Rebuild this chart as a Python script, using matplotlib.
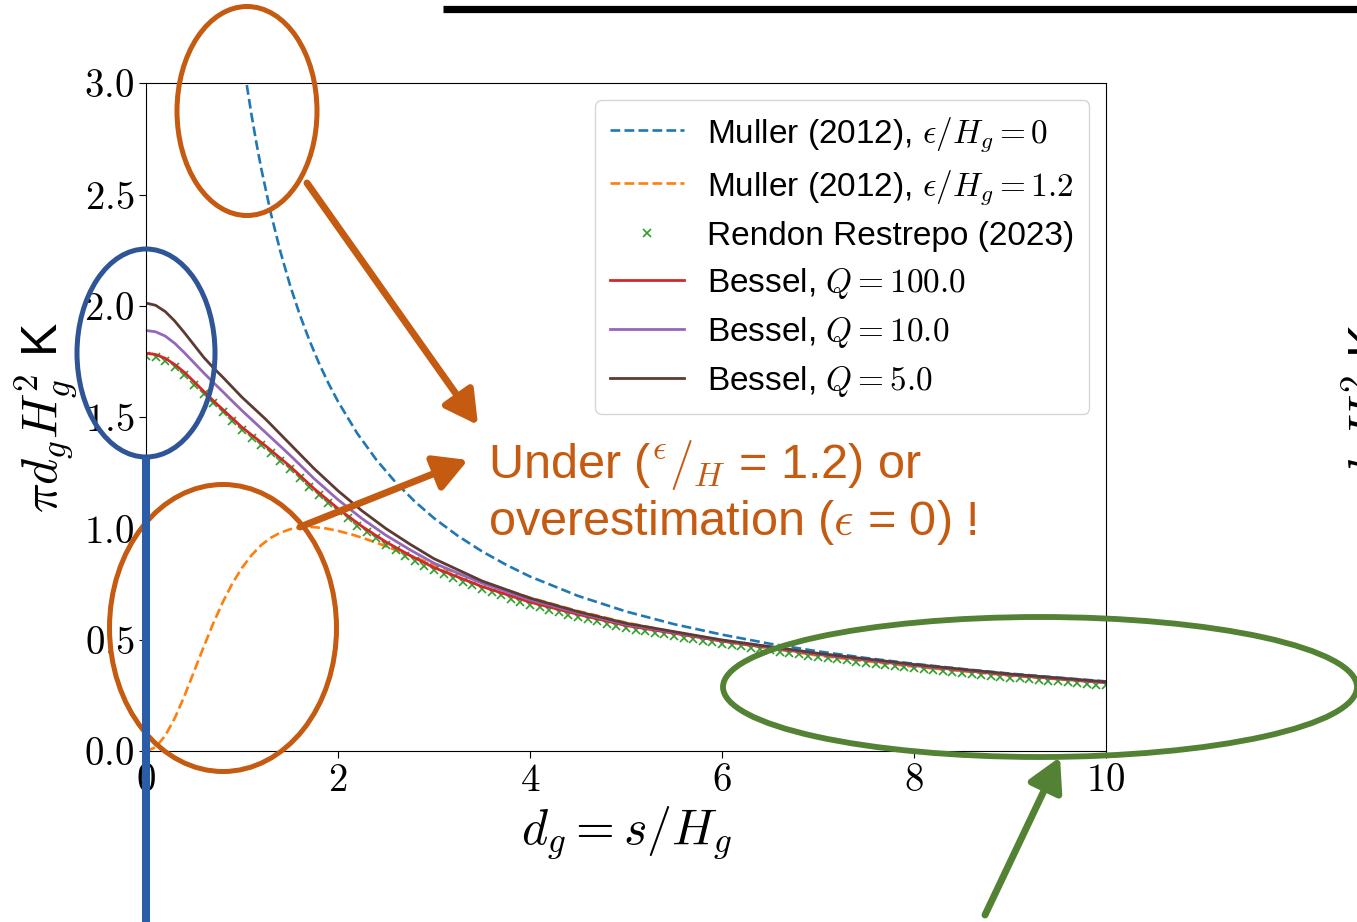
import matplotlib
matplotlib.use("Agg")
import matplotlib.pyplot as plt
from matplotlib.patches import Ellipse, FancyArrowPatch, ArrowStyle
from matplotlib.lines import Line2D

plt.rcParams['font.family'] = ['Liberation Sans', 'DejaVu Sans']
plt.rcParams['mathtext.fontset'] = 'cm'

# ---------------- data ----------------
d_blue = [1.05, 1.1, 1.15, 1.2, 1.3, 1.4, 1.5, 1.6, 1.7, 1.8, 1.9, 2.0, 2.2, 2.4,
          2.6, 2.8, 3.0, 3.25, 3.5, 3.75, 4.0, 4.5, 5.0, 5.5, 6.0, 6.5, 7.0,
          7.5, 8.0, 8.5, 9.0, 9.5, 10.0]
muller_eps0 = [2.992, 2.856, 2.732, 2.618, 2.417, 2.244, 2.094, 1.963, 1.848,
               1.745, 1.653, 1.571, 1.428, 1.309, 1.208, 1.122, 1.047, 0.967,
               0.898, 0.838, 0.785, 0.698, 0.628, 0.571, 0.524, 0.483, 0.449,
               0.419, 0.393, 0.370, 0.349, 0.331, 0.314]

d_orange = [0.0, 0.1, 0.2, 0.3, 0.4, 0.5, 0.6, 0.7, 0.8, 0.9, 1.0, 1.1, 1.2, 1.3,
            1.4, 1.5, 1.6, 1.7, 1.85, 2.0, 2.15, 2.3, 2.45, 2.6, 2.8, 3.0, 3.25,
            3.5, 4.0, 4.5, 5.0, 6.0, 7.0, 8.0, 9.0, 10.0]
muller_eps12 = [0.0, 0.018, 0.070, 0.149, 0.248, 0.358, 0.468, 0.574, 0.670,
                0.754, 0.824, 0.881, 0.926, 0.959, 0.982, 0.997, 1.005, 1.008,
                1.003, 0.990, 0.973, 0.952, 0.929, 0.904, 0.871, 0.838, 0.798,
                0.760, 0.690, 0.630, 0.578, 0.494, 0.430, 0.380, 0.340, 0.3075]

d_rr = [round(0.1 * i, 1) for i in range(101)]
rendon = [1.775, 1.770, 1.752, 1.724, 1.688, 1.646, 1.603, 1.562, 1.522, 1.483,
          1.443, 1.409, 1.375, 1.340, 1.304, 1.268, 1.229, 1.189, 1.150, 1.114,
          1.078, 1.046, 1.014, 0.984, 0.956, 0.928, 0.903, 0.879, 0.856, 0.834,
          0.813, 0.796, 0.779, 0.762, 0.745, 0.728, 0.714, 0.700, 0.686, 0.672,
          0.658, 0.647, 0.636, 0.625, 0.614, 0.603, 0.593, 0.583, 0.573, 0.563,
          0.553, 0.546, 0.539, 0.532, 0.525, 0.518, 0.511, 0.504, 0.497, 0.490,
          0.483, 0.477, 0.471, 0.465, 0.459, 0.453, 0.447, 0.441, 0.435, 0.429,
          0.423, 0.418, 0.413, 0.408, 0.403, 0.398, 0.393, 0.388, 0.383, 0.378,
          0.373, 0.369, 0.365, 0.360, 0.356, 0.352, 0.348, 0.344, 0.339, 0.335,
          0.331, 0.328, 0.324, 0.321, 0.317, 0.314, 0.310, 0.307, 0.303, 0.300,
          0.296]

d_bessel = [0.0, 0.1, 0.2, 0.3, 0.4, 0.5, 0.6, 0.7, 0.8, 0.9, 1.0, 1.25, 1.5,
            1.75, 2.0, 2.25, 2.5, 2.75, 3.0, 3.5, 4.0, 4.5, 5.0, 6.0, 7.0, 8.0,
            9.0, 10.0]
bessel_q100 = [1.788, 1.782, 1.765, 1.737, 1.702, 1.660, 1.617, 1.575, 1.535,
               1.495, 1.455, 1.37, 1.28, 1.18, 1.09, 1.01, 0.94, 0.88, 0.825,
               0.74, 0.67, 0.615, 0.565, 0.495, 0.435, 0.385, 0.343, 0.308]
bessel_q10 = [1.89, 1.884, 1.865, 1.832, 1.79, 1.745, 1.70, 1.657, 1.615, 1.572,
              1.53, 1.43, 1.33, 1.225, 1.13, 1.045, 0.97, 0.905, 0.845, 0.755,
              0.68, 0.622, 0.57, 0.498, 0.437, 0.387, 0.345, 0.31]
bessel_q5 = [2.013, 2.003, 1.975, 1.932, 1.88, 1.825, 1.77, 1.723, 1.68, 1.635,
             1.59, 1.49, 1.38, 1.27, 1.17, 1.08, 1.0, 0.93, 0.865, 0.765, 0.688,
             0.627, 0.575, 0.50, 0.44, 0.39, 0.347, 0.312]

labels = [r'Muller (2012), $\epsilon/H_g = 0$',
          r'Muller (2012), $\epsilon/H_g = 1.2$',
          'Rendon Restrepo (2023)',
          r'Bessel, $Q = 100.0$',
          r'Bessel, $Q = 10.0$',
          r'Bessel, $Q = 5.0$']
xticks = [0, 2, 4, 6, 8, 10]
yticks = [0.0, 0.5, 1.0, 1.5, 2.0, 2.5, 3.0]

# ---------------- figure ----------------
W, H = 1357, 922
fig = plt.figure(figsize=(W / 100, H / 100), dpi=100)
ax = fig.add_axes([146 / W, 1 - 751.3 / H, 960 / W, 668 / H])


def fx(px):
    return px / W


def fy(py):
    return 1 - py / H


ax.plot(d_blue, muller_eps0, ls='--', color='#1f77b4', lw=1.9, label=labels[0])
ax.plot(d_orange, muller_eps12, ls='--', color='#ff7f0e', lw=1.9, label=labels[1])
ax.plot(d_rr, rendon, ls='none', marker='x', ms=5.5, mew=1.2, color='#2ca02c',
        label=labels[2])
ax.plot(d_bessel, bessel_q100, color='#d62728', lw=2.0, label=labels[3])
ax.plot(d_bessel, bessel_q10, color='#9467bd', lw=2.0, label=labels[4])
ax.plot(d_bessel, bessel_q5, color='#5d3a33', lw=2.0, label=labels[5])

ax.set_xlim(0, 10)
ax.set_ylim(0, 3)
ax.set_xticks(xticks)
ax.set_xticklabels([f'${t}$' for t in xticks])
ax.set_yticks(yticks)
ax.set_yticklabels([f'${t:.1f}$' for t in yticks])
ax.tick_params(labelsize=28, length=5, width=0.8)
for sp in ax.spines.values():
    sp.set_linewidth(0.8)
ax.set_xlabel(r'$d_g = s/H_g$', fontsize=36, labelpad=4)
ax.set_ylabel(r'$\pi d_g H_g^2$ K', fontsize=36, labelpad=4)

ax.legend(fontsize=24, loc='upper right', handlelength=2.2, handletextpad=0.7,
          labelspacing=0.42, borderpad=0.45, borderaxespad=0.5)

# ---------------- slide annotations ----------------
orange = '#C55A11'
blue = '#2F5597'
green = '#548235'

fig.add_artist(Line2D([fx(443), fx(1357)], [fy(9), fy(9)], color='black',
                      lw=5.2, transform=fig.transFigure, solid_capstyle='butt'))

fig.add_artist(Ellipse((fx(247), fy(111)), 140 / W, 209 / H, fill=False,
                       ec=orange, lw=3.6, transform=fig.transFigure))
fig.add_artist(Ellipse((fx(223), fy(628)), 227 / W, 287 / H, fill=False,
                       ec=orange, lw=3.6, transform=fig.transFigure))
fig.add_artist(Ellipse((fx(146), fy(353)), 138 / W, 208 / H, fill=False,
                       ec=blue, lw=3.6, transform=fig.transFigure))
fig.add_artist(Line2D([fx(146), fx(146)], [fy(457), fy(930)], color='#2B5CA8',
                      lw=5.8, transform=fig.transFigure, solid_capstyle='butt'))
fig.add_artist(Ellipse((fx(1040), fy(687)), 634 / W, 140 / H, fill=False,
                       ec=green, lw=4.2, transform=fig.transFigure))

style = ArrowStyle('-|>', head_length=1.0, head_width=0.55)
for (x0, y0, x1, y1, c) in [(307, 183, 478, 425, orange),
                            (300, 527, 468, 460, orange),
                            (985, 915, 1060, 757, green)]:
    fig.add_artist(FancyArrowPatch((fx(x0), fy(y0)), (fx(x1), fy(y1)),
                                   arrowstyle=style, mutation_scale=20,
                                   color=c, lw=5, shrinkA=0, shrinkB=0,
                                   transform=fig.transFigure))

fig.text(fx(488), fy(478), r'Under (${}^{\epsilon}/_{H}$ = 1.2) or',
         fontsize=35, color=orange, ha='left', va='baseline')
fig.text(fx(488), fy(535), r'overestimation ($\epsilon$ = 0) !',
         fontsize=35, color=orange, ha='left', va='baseline')

# cut-off label of the neighbouring plot at the right edge (as in the slide)
fig.text(fx(1373), fy(418), r'$\pi d_g H_g^2$ K', fontsize=36, rotation=90,
         ha='center', va='center')

fig.savefig('out.png', dpi=100)
